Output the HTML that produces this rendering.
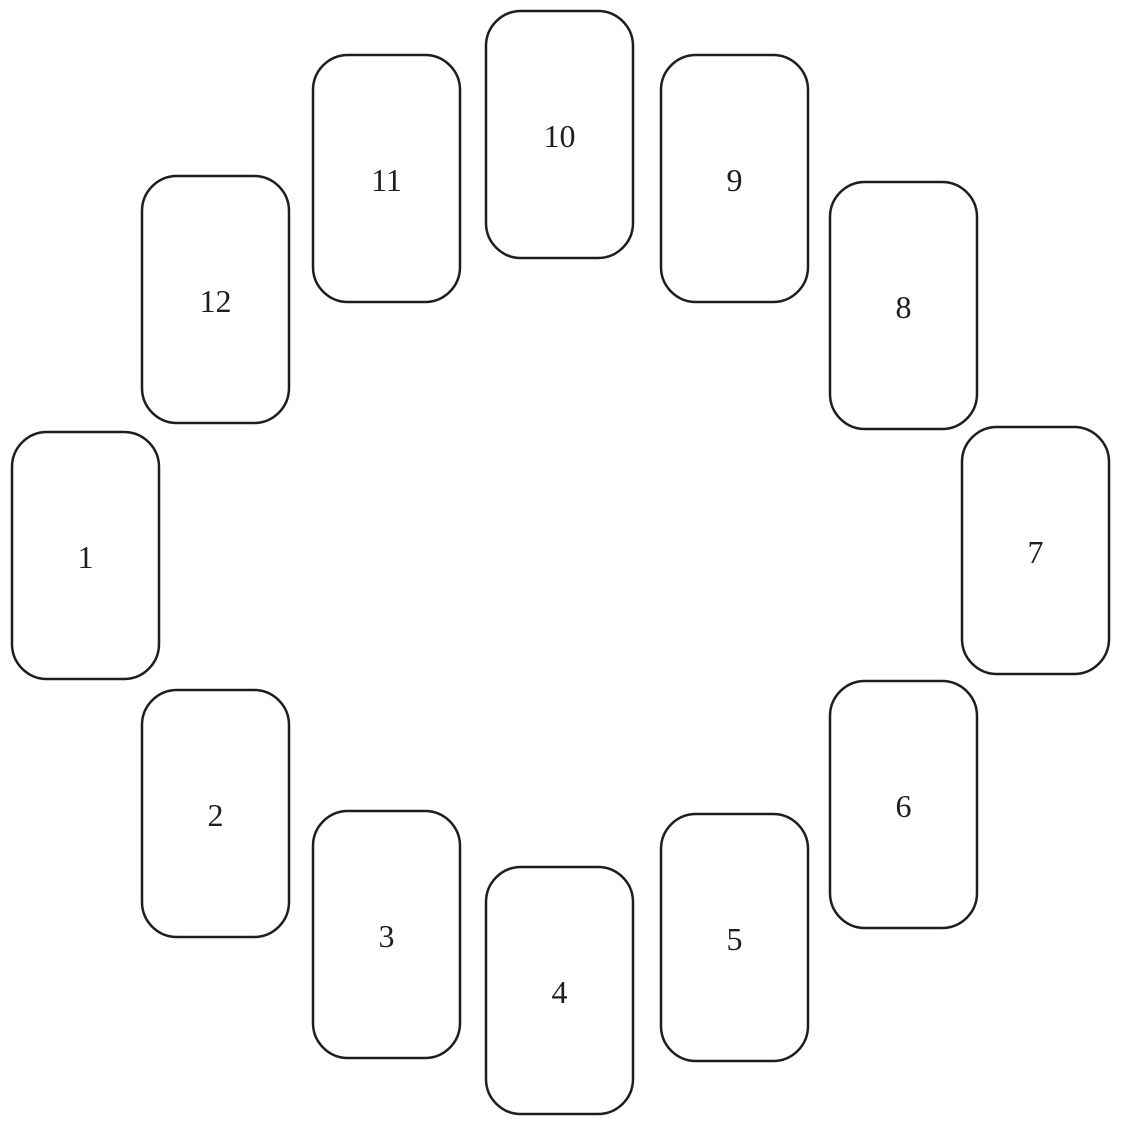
<!DOCTYPE html>
<html><head><meta charset="utf-8"><style>
html,body{margin:0;padding:0;background:#fff;}
svg{display:block}
text{font-family:"Liberation Serif","DejaVu Serif",serif;font-size:32px;fill:#1e1e1e;text-anchor:middle;dominant-baseline:central}
rect{fill:#fff;stroke:#1e1e1e;stroke-width:2.5}
</style></head><body>
<svg width="1121" height="1127" viewBox="0 0 1121 1127" xmlns="http://www.w3.org/2000/svg">
<g>
<rect x="486" y="11" width="147" height="247" rx="35"/><text x="559.5" y="136">10</text>
<rect x="313" y="55" width="147" height="247" rx="35"/><text x="386.5" y="180">11</text>
<rect x="661" y="55" width="147" height="247" rx="35"/><text x="734.5" y="180">9</text>
<rect x="142" y="176" width="147" height="247" rx="35"/><text x="215.5" y="301">12</text>
<rect x="830" y="182" width="147" height="247" rx="35"/><text x="903.5" y="307">8</text>
<rect x="12" y="432" width="147" height="247" rx="35"/><text x="85.5" y="557">1</text>
<rect x="962" y="427" width="147" height="247" rx="35"/><text x="1035.5" y="552">7</text>
<rect x="142" y="690" width="147" height="247" rx="35"/><text x="215.5" y="815">2</text>
<rect x="830" y="681" width="147" height="247" rx="35"/><text x="903.5" y="806">6</text>
<rect x="313" y="811" width="147" height="247" rx="35"/><text x="386.5" y="936">3</text>
<rect x="486" y="867" width="147" height="247" rx="35"/><text x="559.5" y="992">4</text>
<rect x="661" y="814" width="147" height="247" rx="35"/><text x="734.5" y="939">5</text>
</g>
</svg>
</body></html>
